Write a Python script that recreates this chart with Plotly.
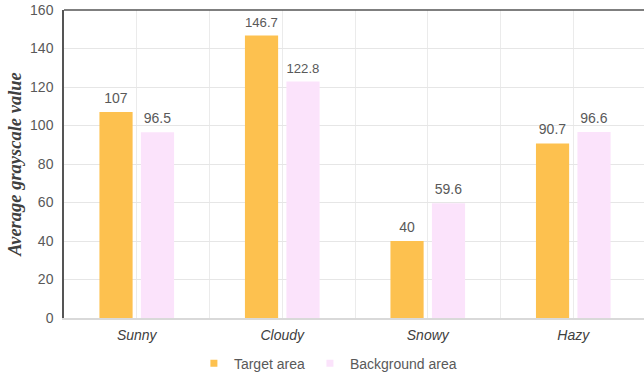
import plotly.graph_objects as go

# Weather conditions and mean grey levels for each region
categories = ["Sunny", "Cloudy", "Snowy", "Hazy"]
target_area = [107, 146.7, 40, 90.7]
background_area = [96.5, 122.8, 59.6, 96.6]
y_ticks = [0, 20, 40, 60, 80, 100, 120, 140, 160]

series = [
    ("Target area", target_area, "#FDC14F"),
    ("Background area", background_area, "#FBE3FB"),
]

x_pos = list(range(len(categories)))

# value label at 14px, followed by a tiny spacer line that lifts it off the bar
label_font = dict(family="Liberation Sans, Arial, sans-serif", size=4, color="#595959")
label_tpl = "<span style='font-size:14px'>%{y}</span><br> "

fig = go.Figure()
for name, values, color in series:
    fig.add_trace(go.Bar(
        x=x_pos, y=values, name=name, legendgroup=name, showlegend=False,
        marker=dict(color=color, line=dict(width=0)),
        texttemplate=label_tpl, textposition="outside",
        textfont=label_font, cliponaxis=False, hoverinfo="x+y",
    ))
    # compact square legend key
    fig.add_trace(go.Scatter(
        x=[None], y=[None], mode="markers", name=name, legendgroup=name,
        marker=dict(symbol="square", size=7, color=color),
    ))

fig.update_layout(
    width=644, height=380,
    margin=dict(l=64, r=0, t=10, b=60),
    paper_bgcolor="white", plot_bgcolor="white",
    barmode="group", bargap=0.43, bargroupgap=0.2,
    uniformtext=dict(minsize=0),
    font=dict(family="Liberation Sans, Arial, sans-serif", color="#595959"),
    legend=dict(
        orientation="h", x=0.455, xanchor="center", y=-0.148, yanchor="middle",
        font=dict(size=14, color="#595959"), itemwidth=30,
        traceorder="normal", tracegroupgap=0,
    ),
    shapes=[dict(type="line", xref="paper", yref="paper", x0=0, x1=1, y0=1, y1=1,
                 line=dict(color="#555555", width=1.5))],
)

fig.update_xaxes(
    range=[-0.5, 3.486],
    tickvals=x_pos, ticktext=categories,
    tickfont=dict(family="Liberation Sans, Arial, sans-serif", size=14,
                  color="#404040", style="italic"),
    showgrid=True, gridcolor="#EBEBEB", gridwidth=1,
    minor=dict(tick0=-0.5, dtick=0.5, showgrid=True, gridcolor="#EBEBEB", gridwidth=1),
    showline=True, linecolor="#D9D9D9", linewidth=1.5,
    ticks="", ticklabelstandoff=3, zeroline=False, fixedrange=True,
)
fig.update_yaxes(
    range=[0, 160], tickvals=y_ticks,
    tickfont=dict(size=14, color="#595959"),
    showgrid=True, gridcolor="#E6E6E6", gridwidth=1,
    showline=True, linecolor="#555555", linewidth=1.5,
    zeroline=False, ticks="", ticklabelstandoff=6,
    title=dict(text="<b><i>Average grayscale value</i></b>",
               font=dict(family="Liberation Serif, Times New Roman, serif", size=18.5, color="#404040"),
               standoff=4),
)

fig.write_html("out.html")
